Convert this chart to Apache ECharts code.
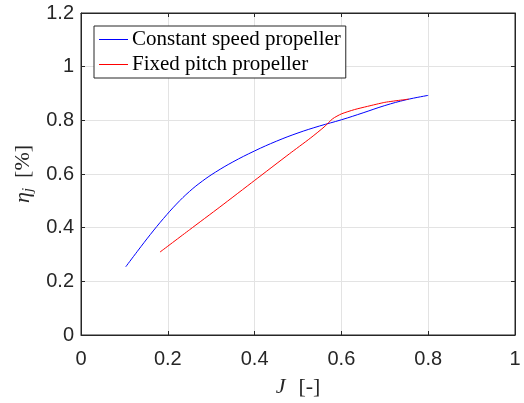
<!DOCTYPE html>
<html><head><meta charset="utf-8">
<script src="https://cdn.jsdelivr.net/npm/echarts@6/dist/echarts.min.js"></script>
<style>html,body{margin:0;padding:0;background:#fff}#c{width:524px;height:403px}</style>
</head><body><div id="c"></div>
<script>
const seriesNames = ['Constant speed propeller', 'Fixed pitch propeller'];
const constJ = [0.103, 0.13, 0.16, 0.19, 0.22, 0.25, 0.28, 0.31, 0.35, 0.40, 0.45, 0.50, 0.55, 0.60, 0.65, 0.70, 0.75, 0.80];
const constEta = [0.254, 0.312, 0.375, 0.434, 0.488, 0.535, 0.574, 0.607, 0.645, 0.686, 0.722, 0.753, 0.779, 0.802, 0.828, 0.855, 0.877, 0.893];
const fixedJ = [0.182, 0.25, 0.32, 0.40, 0.48, 0.528, 0.56, 0.58, 0.60, 0.63, 0.66, 0.70, 0.74, 0.755];
const fixedEta = [0.309, 0.392, 0.477, 0.576, 0.675, 0.733, 0.775, 0.806, 0.824, 0.840, 0.852, 0.867, 0.876, 0.879];
const xTicks = [0, 0.2, 0.4, 0.6, 0.8, 1];
const yTicks = [0, 0.2, 0.4, 0.6, 0.8, 1, 1.2];

const pair = (a, b) => a.map((v, i) => [v, b[i]]);
const axisCol = '#262626';
const tickFont = { fontFamily: 'Liberation Sans', fontSize: 20, color: axisCol };
const fmt = v => (Math.abs(v) < 1e-9 ? '0' : String(+v.toFixed(1)));

const baseAxis = (min, max, interval) => ({
  type: 'value', min, max, interval,
  axisLine: { show: true, onZero: false, lineStyle: { color: axisCol, width: 1 } },
  axisTick: { show: true, inside: true, length: 4, lineStyle: { color: axisCol } },
  splitLine: { show: false }
});

const chart = echarts.init(document.getElementById('c'), null, { renderer: 'canvas' });
chart.setOption({
  animation: false,
  grid: { show: true, borderColor: axisCol, borderWidth: 1, backgroundColor: 'transparent',
          left: 81, right: 9, top: 13, bottom: 65, containLabel: false },
  xAxis: [
    Object.assign(baseAxis(xTicks[0], xTicks[xTicks.length - 1], 0.2), {
      position: 'bottom',
      splitLine: { show: true, lineStyle: { color: '#e3e3e3', width: 1 } },
      axisLabel: Object.assign({ margin: 14, formatter: fmt }, tickFont),
      name: '{i|J}{n|[-]}', nameLocation: 'middle', nameGap: 41,
      nameTextStyle: { rich: {
        i: { fontFamily: 'Liberation Serif', fontStyle: 'italic', fontSize: 22, color: axisCol, padding: [0, 13, 0, 0] },
        n: { fontFamily: 'Liberation Serif', fontSize: 22, color: axisCol } } }
    }),
    Object.assign(baseAxis(xTicks[0], xTicks[xTicks.length - 1], 0.2), {
      position: 'top', axisLabel: { show: false }
    })
  ],
  yAxis: [
    Object.assign(baseAxis(yTicks[0], yTicks[yTicks.length - 1], 0.2), {
      position: 'left',
      splitLine: { show: true, lineStyle: { color: '#e3e3e3', width: 1 } },
      axisLabel: Object.assign({ margin: 7, formatter: fmt }, tickFont),
      name: '{i|η}{s|j}{n|[%]}', nameLocation: 'middle', nameGap: 44, nameRotate: 90,
      nameTextStyle: { rich: {
        i: { fontFamily: 'Liberation Serif', fontStyle: 'italic', fontSize: 22, color: axisCol },
        s: { fontFamily: 'Liberation Serif', fontStyle: 'italic', fontSize: 15, color: axisCol, verticalAlign: 'bottom', padding: [10, 10, 0, 0] },
        n: { fontFamily: 'Liberation Serif', fontSize: 22, color: axisCol } } }
    }),
    Object.assign(baseAxis(yTicks[0], yTicks[yTicks.length - 1], 0.2), {
      position: 'right', axisLabel: { show: false }
    })
  ],
  legend: {
    orient: 'vertical', left: 94, top: 26,
    padding: [3, 5, 3, 5], itemGap: 4, itemWidth: 29, itemHeight: 1, icon: 'rect',
    backgroundColor: '#fff', borderColor: axisCol, borderWidth: 1, borderRadius: 0,
    textStyle: { fontFamily: 'Liberation Serif', fontSize: 21, lineHeight: 20, color: '#000', padding: [0, 0, 0, -1] },
    data: seriesNames
  },
  series: [
    { name: seriesNames[0], type: 'line', data: pair(constJ, constEta), smooth: 0.4,
      symbol: 'none', lineStyle: { color: '#0000ff', width: 1 }, itemStyle: { color: '#0000ff' } },
    { name: seriesNames[1], type: 'line', data: pair(fixedJ, fixedEta), smooth: 0.2,
      symbol: 'none', lineStyle: { color: '#ff0000', width: 1 }, itemStyle: { color: '#ff0000' } }
  ]
});
</script></body></html>
